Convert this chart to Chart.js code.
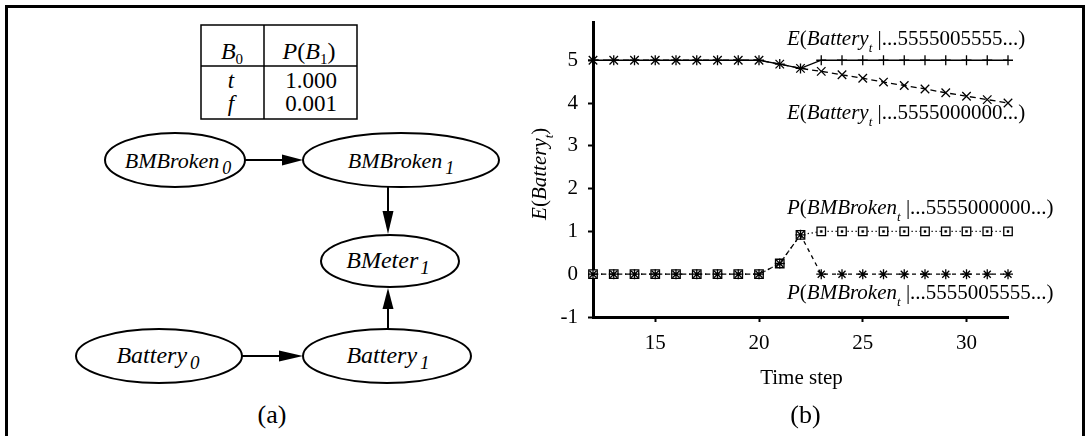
<!DOCTYPE html>
<html lang="en">
<head>
<meta charset="UTF-8">
<title>Battery meter DBN</title>
<script src="https://cdn.jsdelivr.net/npm/chart.js"></script>
<style>
  body { margin: 0; background: #fff; }
  #wrap { position: relative; width: 1091px; height: 436px; overflow: hidden; }
  #frame { position: absolute; left: 5px; top: 5px; width: 1080px; height: 470px; border: 3px solid #000; box-sizing: border-box; }
  #net { position: absolute; left: 0; top: 0; }
  #chart { position: absolute; left: 0; top: 0; }
  svg text { font-family: "Liberation Serif", "Times New Roman", serif; fill: #000; }
</style>
</head>
<body>
<div id="wrap">
  <div id="frame"></div>

  <!-- (a) network diagram -->
  <svg id="net" width="545" height="436">
    <g stroke="#000" stroke-width="1.5" fill="none">
      <rect x="201" y="25" width="156" height="94"/>
      <line x1="264" y1="25" x2="264" y2="119"/>
      <line x1="201" y1="66" x2="357" y2="66"/>
    </g>
    <text x="232" y="59" text-anchor="middle" font-size="24"><tspan font-style="italic">B</tspan><tspan font-size="15" dy="5">0</tspan></text>
    <text x="309" y="59" text-anchor="middle" font-size="24"><tspan font-style="italic">P</tspan>(<tspan font-style="italic">B</tspan><tspan font-size="15" dy="5">1</tspan><tspan dy="-5">)</tspan></text>
    <text x="231" y="88" text-anchor="middle" font-size="23" font-style="italic">t</text>
    <text x="231" y="111" text-anchor="middle" font-size="23" font-style="italic">f</text>
    <text x="311" y="88" text-anchor="middle" font-size="23">1.000</text>
    <text x="311" y="111" text-anchor="middle" font-size="23">0.001</text>

    <g stroke="#000" stroke-width="2" fill="none">
      <ellipse cx="175" cy="160" rx="70" ry="27"/>
      <ellipse cx="401" cy="160" rx="98" ry="27"/>
      <ellipse cx="390" cy="261" rx="69" ry="26"/>
      <ellipse cx="159" cy="356" rx="83" ry="27"/>
      <ellipse cx="387" cy="356" rx="84" ry="27"/>
      <line x1="245" y1="160" x2="284" y2="160"/>
      <line x1="242" y1="356" x2="281" y2="356"/>
      <line x1="388" y1="187" x2="388" y2="212"/>
      <line x1="388" y1="329" x2="388" y2="308"/>
    </g>
    <g fill="#000">
      <polygon points="282,154.5 303,160 282,165.5"/>
      <polygon points="279,350.5 303,356 279,361.5"/>
      <polygon points="382.5,211 388,234 393.5,211"/>
      <polygon points="382.5,309 388,288 393.5,309"/>
    </g>
    <text x="178" y="168" text-anchor="middle" font-size="22" font-style="italic">BMBroken<tspan font-size="18" dx="3" dy="6">0</tspan></text>
    <text x="401" y="168" text-anchor="middle" font-size="22" font-style="italic">BMBroken<tspan font-size="18" dx="3" dy="6">1</tspan></text>
    <text x="388" y="268" text-anchor="middle" font-size="24" font-style="italic">BMeter<tspan font-size="19" dx="2" dy="6">1</tspan></text>
    <text x="158" y="363" text-anchor="middle" font-size="24" font-style="italic">Battery<tspan font-size="19" dx="3" dy="6">0</tspan></text>
    <text x="388" y="363" text-anchor="middle" font-size="24" font-style="italic">Battery<tspan font-size="19" dx="3" dy="6">1</tspan></text>
    <text x="272" y="423" text-anchor="middle" font-size="26">(a)</text>
  </svg>

  <!-- (b) chart -->
  <canvas id="chart" width="1091" height="436"></canvas>
</div>

<script>
    // time steps on the x axis
    const timeSteps = [12, 13, 14, 15, 16, 17, 18, 19, 20, 21, 22, 23, 24, 25, 26, 27, 28, 29, 30, 31, 32];

    // E(Battery_t | ...5555005555...)  (transient failure)
    const eBatteryTransient = [5, 5, 5, 5, 5, 5, 5, 5, 5, 4.91, 4.81, 5, 5, 5, 5, 5, 5, 5, 5, 5, 5];
    // E(Battery_t | ...5555000000...)  (persistent failure)
    const eBatteryPersistent = [5, 5, 5, 5, 5, 5, 5, 5, 5, 4.91, 4.81, 4.74, 4.66, 4.58, 4.49, 4.41, 4.33, 4.24, 4.16, 4.08, 4.0];
    // P(BMBroken_t | ...5555000000...)
    const pBrokenPersistent = [0, 0, 0, 0, 0, 0, 0, 0, 0, 0.25, 0.92, 1, 1, 1, 1, 1, 1, 1, 1, 1, 1];
    // P(BMBroken_t | ...5555005555...)
    const pBrokenTransient = [0, 0, 0, 0, 0, 0, 0, 0, 0, 0.25, 0.92, 0, 0, 0, 0, 0, 0, 0, 0, 0, 0];

    const xTickValues = [15, 20, 25, 30];
    const yTickValues = [-1, 0, 1, 2, 3, 4, 5];

    const FONT = '"Liberation Serif", "Times New Roman", serif';

    function toPoints(vals) {
        return timeSteps.map((t, i) => ({ x: t, y: vals[i] }));
    }

    // draws text made of parts: [text, flags] where flags has i (italic) and s (subscript)
    function drawRich(ctx, parts, x, y, size, align) {
        const fontOf = p => (p[1] && p[1].includes('i') ? 'italic ' : '') +
            (p[1] && p[1].includes('s') ? Math.round(size * 0.62) : size) + 'px ' + FONT;
        let w = 0;
        parts.forEach(p => { ctx.font = fontOf(p); w += ctx.measureText(p[0]).width; });
        let cx = align === 'center' ? x - w / 2 : x;
        parts.forEach(p => {
            ctx.font = fontOf(p);
            const sub = p[1] && p[1].includes('s');
            ctx.fillText(p[0], cx, sub ? y + size * 0.32 : y);
            cx += ctx.measureText(p[0]).width;
        });
    }

    const labelsPlugin = {
        id: 'labels',
        afterDraw(chart) {
            const ctx = chart.ctx;
            const xs = chart.scales.x, ys = chart.scales.y;
            const area = chart.chartArea;
            ctx.save();
            ctx.fillStyle = '#000';
            ctx.textBaseline = 'alphabetic';
            ctx.textAlign = 'left';

            const left = xs.getPixelForValue(21.35);
            drawRich(ctx, [['E', 'i'], ['('], ['Battery', 'i'], ['t', 'is'], [' |...5555005555...)']], left, ys.getPixelForValue(5) - 15, 21);
            drawRich(ctx, [['E', 'i'], ['('], ['Battery', 'i'], ['t', 'is'], [' |...5555000000...)']], left, ys.getPixelForValue(4) + 16, 21);
            drawRich(ctx, [['P', 'i'], ['('], ['BMBroken', 'i'], ['t', 'is'], [' |...5555000000...)']], left, ys.getPixelForValue(1) - 17, 21);
            drawRich(ctx, [['P', 'i'], ['('], ['BMBroken', 'i'], ['t', 'is'], [' |...5555005555...)']], left, ys.getPixelForValue(0) + 25, 21);

            // axis titles
            const midX = (area.left + area.right) / 2;
            drawRich(ctx, [['Time step']], midX + 1, area.bottom + 67, 21, 'center');
            drawRich(ctx, [['(b)']], midX + 5, area.bottom + 106, 26, 'center');

            ctx.translate(area.left - 47, (area.top + area.bottom) / 2 + 4);
            ctx.rotate(-Math.PI / 2);
            drawRich(ctx, [['E', 'i'], ['('], ['Battery', 'i'], ['t', 'is'], [')']], 0, 0, 21, 'center');
            ctx.restore();
        }
    };

    Chart.defaults.font.family = FONT;
    Chart.defaults.font.size = 21;
    Chart.defaults.color = '#000';

    const common = { borderColor: '#000', borderWidth: 1.3, pointBorderColor: '#000', pointBorderWidth: 1.3, fill: false, tension: 0, clip: false };

    new Chart(document.getElementById('chart'), {
        type: 'line',
        data: {
            datasets: [
                Object.assign({ label: 'P(BMBroken | ...5555005555...)', data: toPoints(pBrokenTransient),
                    borderDash: [4, 4], pointStyle: 'star', pointRadius: 5, pointBackgroundColor: '#000' }, common),
                // small dot in the middle of each box marker
                Object.assign({ label: 'box centres', data: toPoints(pBrokenPersistent), showLine: false,
                    pointStyle: 'rect', pointRadius: 1.4, pointBackgroundColor: '#000' }, common, { pointBorderWidth: 0.5 }),
                Object.assign({ label: 'P(BMBroken | ...5555000000...)', data: toPoints(pBrokenPersistent),
                    borderDash: [1.3, 2.7], pointStyle: 'rect', pointRadius: 6, pointBackgroundColor: '#fff' }, common),
                Object.assign({ label: 'E(Battery | ...5555005555...)', data: toPoints(eBatteryTransient),
                    pointStyle: 'cross', pointRadius: 5, pointBackgroundColor: '#000' }, common),
                Object.assign({ label: 'E(Battery | ...5555000000...)', data: toPoints(eBatteryPersistent),
                    borderDash: [6, 4], pointStyle: 'crossRot', pointRadius: 6, pointBackgroundColor: '#000' }, common)
            ]
        },
        options: {
            responsive: false,
            animation: false,
            events: [],
            layout: { autoPadding: false, padding: { left: 553, right: 83, top: 20, bottom: 79 } },
            plugins: { legend: { display: false }, tooltip: { enabled: false } },
            scales: {
                x: {
                    type: 'linear', min: 12, max: 32,
                    afterBuildTicks: s => { s.ticks = xTickValues.map(v => ({ value: v })); },
                    afterFit: s => { s.height = 40; },
                    grid: { drawOnChartArea: false, drawTicks: true, tickLength: 5, tickWidth: 2, tickColor: '#000' },
                    border: { display: true, width: 3, color: '#000' },
                    ticks: { padding: 9, maxRotation: 0 }
                },
                y: {
                    type: 'linear', min: -1, max: 5.88,
                    afterBuildTicks: s => { s.ticks = yTickValues.map(v => ({ value: v })); },
                    afterFit: s => { s.width = 40; },
                    grid: { drawOnChartArea: false, drawTicks: true, tickLength: 5, tickWidth: 2, tickColor: '#000' },
                    border: { display: true, width: 3, color: '#000' },
                    ticks: { padding: 10 }
                }
            }
        },
        plugins: [labelsPlugin]
    });
</script>
</body>
</html>
